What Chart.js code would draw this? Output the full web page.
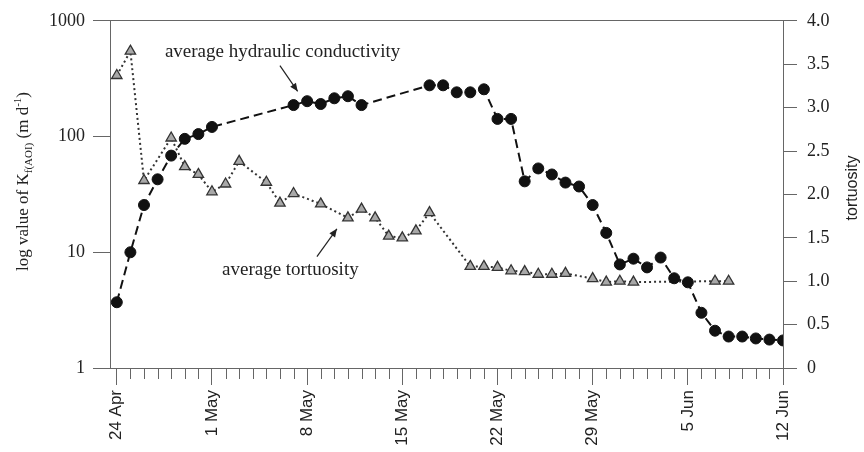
<!DOCTYPE html>
<html><head><meta charset="utf-8">
<script src="https://cdn.jsdelivr.net/npm/chart.js@4.4.1/dist/chart.umd.min.js"></script>
<style>html,body{margin:0;padding:0;background:#fff;}#wrap{width:864px;height:452px;}</style>
</head><body><div id="wrap"><canvas id="c" width="864" height="452"></canvas></div>
<script>
// ---- data (day 0 = 24 Apr) ----
const tickDays = [0, 7, 14, 21, 28, 35, 42, 49];
const tickLabels = ['24 Apr', '1 May', '8 May', '15 May', '22 May', '29 May', '5 Jun', '12 Jun'];
const condDays = [0,1,2,3,4,5,6,7,13,14,15,16,17,18,23,24,25,26,27,28,29,30,31,32,33,34,35,36,37,38,39,40,41,42,43,44,45,46,47,48,49];
const condValues = [3.7,10,25.6,42.7,68.4,95.5,105,121,187,202,191,214,223,187,277,277,241,241,256,142,142,41,53,47,40,37,25.6,14.7,7.85,8.8,7.4,9.0,5.96,5.5,3.0,2.1,1.87,1.87,1.8,1.76,1.73];
const tortDays = [0,1,2,4,5,6,7,8,9,11,12,13,15,17,18,19,20,21,22,23,26,27,28,29,30,31,32,33,35,36,37,38,44,45];
const tortValues = [3.37,3.65,2.16,2.65,2.32,2.23,2.03,2.12,2.38,2.14,1.90,2.01,1.89,1.73,1.83,1.73,1.52,1.50,1.58,1.79,1.17,1.17,1.16,1.12,1.11,1.08,1.08,1.09,1.03,0.99,1.00,0.99,1.00,1.00];
const kTicks = [1, 10, 100, 1000];
const tortTicks = [0, 0.5, 1, 1.5, 2, 2.5, 3, 3.5, 4];
const condLabel = 'average hydraulic conductivity';
const tortLabel = 'average tortuosity';

const AXIS = '#666';
const SERIF = "'Liberation Serif', 'Times New Roman', serif";
const SANS = "'Liberation Sans', Arial, sans-serif";

const extras = {
  id: 'extras',
  afterDraw(chart) {
    const ctx = chart.ctx;
    const x = chart.scales.x, y = chart.scales.y, y2 = chart.scales.y2;
    const bottom = chart.chartArea.bottom;
    ctx.save();
    // minor day ticks
    ctx.strokeStyle = AXIS; ctx.lineWidth = 1;
    for (let d = 0; d <= 49; d++) {
      if (tickDays.includes(d)) continue;
      const px = Math.round(x.getPixelForValue(d)) + 0.5;
      ctx.beginPath(); ctx.moveTo(px, bottom); ctx.lineTo(px, bottom + 11); ctx.stroke();
    }
    // annotations
    function arrow(x1, y1, x2, y2p) {
      ctx.strokeStyle = '#222'; ctx.fillStyle = '#222'; ctx.lineWidth = 1.2;
      ctx.beginPath(); ctx.moveTo(x1, y1); ctx.lineTo(x2, y2p); ctx.stroke();
      const a = Math.atan2(y2p - y1, x2 - x1), L = 8, W = 3.5;
      ctx.beginPath();
      ctx.moveTo(x2, y2p);
      ctx.lineTo(x2 - L * Math.cos(a) + W * Math.sin(a), y2p - L * Math.sin(a) - W * Math.cos(a));
      ctx.lineTo(x2 - L * Math.cos(a) - W * Math.sin(a), y2p - L * Math.sin(a) + W * Math.cos(a));
      ctx.closePath(); ctx.fill();
    }
    ctx.fillStyle = '#222';
    ctx.font = '19px ' + SERIF;
    ctx.textAlign = 'left'; ctx.textBaseline = 'alphabetic';
    ctx.fillText(condLabel, x.getPixelForValue(3.54), y.getPixelForValue(490));
    arrow(x.getPixelForValue(12.0), y.getPixelForValue(410), x.getPixelForValue(13.3), y.getPixelForValue(246));
    ctx.fillStyle = '#222';
    ctx.fillText(tortLabel, x.getPixelForValue(7.74), y2.getPixelForValue(1.068));
    arrow(x.getPixelForValue(14.72), y2.getPixelForValue(1.284), x.getPixelForValue(16.19), y2.getPixelForValue(1.603));

    // left axis title with sub/superscript
    const segs = [
      ['log value of K', 17, 0],
      ['f(AOI)', 11, 4],
      [' (m d', 17, 0],
      ['-1', 11, -7],
      [')', 17, 0]
    ];
    let total = 0;
    segs.forEach(s => { ctx.font = s[1] + 'px ' + SERIF; s.push(ctx.measureText(s[0]).width); total += s[3]; });
    ctx.save();
    ctx.translate(22, 181.5);
    ctx.rotate(-Math.PI / 2);
    ctx.fillStyle = '#222';
    let cx = -total / 2;
    segs.forEach(s => { ctx.font = s[1] + 'px ' + SERIF; ctx.fillText(s[0], cx, 6 + s[2]); cx += s[3]; });
    ctx.restore();
    // right axis title
    ctx.save();
    ctx.translate(853, 188);
    ctx.rotate(-Math.PI / 2);
    ctx.font = '16px ' + SANS; ctx.textAlign = 'center'; ctx.textBaseline = 'middle';
    ctx.fillStyle = '#222';
    ctx.fillText('tortuosity', 0, 0);
    ctx.restore();
    ctx.restore();
  }
};

new Chart(document.getElementById('c'), {
  type: 'line',
  data: {
    datasets: [
      {
        label: condLabel,
        data: condDays.map((d, i) => ({ x: d, y: condValues[i] })),
        yAxisID: 'y', xAxisID: 'x',
        borderColor: '#111', borderWidth: 2, borderDash: [9, 5],
        pointStyle: 'circle', pointRadius: 5.5, pointBackgroundColor: '#111', pointBorderColor: '#111', pointBorderWidth: 1,
        fill: false, tension: 0
      },
      {
        label: tortLabel,
        data: tortDays.map((d, i) => ({ x: d, y: tortValues[i] })),
        yAxisID: 'y2', xAxisID: 'x',
        borderColor: '#333', borderWidth: 2, borderDash: [2, 3],
        pointStyle: 'triangle', pointRadius: 6, pointBackgroundColor: '#a8a8a8', pointBorderColor: '#333', pointBorderWidth: 1.3,
        fill: false, tension: 0
      }
    ]
  },
  options: {
    responsive: false, animation: false, devicePixelRatio: 1,
    layout: { padding: 0 },
    plugins: { legend: { display: false }, tooltip: { enabled: false } },
    scales: {
      x: {
        type: 'linear', position: 'bottom', min: -0.5, max: 49,
        afterBuildTicks: s => { s.ticks = tickDays.map(v => ({ value: v })); },
        ticks: { autoSkip: false, maxRotation: 90, minRotation: 90, padding: 5, color: '#222',
          font: { family: SANS, size: 17 },
          callback: v => tickLabels[tickDays.indexOf(v)] },
        grid: { drawOnChartArea: false, tickLength: 17, tickColor: AXIS, tickWidth: 1 },
        border: { color: AXIS, width: 1 },
        afterFit: s => { s.height = 84; }
      },
      x2: {
        type: 'linear', position: 'top', min: -0.5, max: 49,
        ticks: { display: false },
        grid: { drawOnChartArea: false, drawTicks: false },
        border: { color: AXIS, width: 1 },
        afterFit: s => { s.height = 17; }
      },
      y: {
        type: 'logarithmic', position: 'left', min: 1, max: 1000,
        afterBuildTicks: s => { s.ticks = kTicks.map(v => ({ value: v })); },
        ticks: { padding: 8, color: '#222', font: { family: SERIF, size: 18 }, callback: v => String(v) },
        grid: { drawOnChartArea: false, tickLength: 17, tickColor: AXIS },
        border: { color: AXIS, width: 1 },
        afterFit: s => { s.width = 110; }
      },
      y2: {
        type: 'linear', position: 'right', min: 0, max: 4,
        afterBuildTicks: s => { s.ticks = tortTicks.map(v => ({ value: v })); },
        ticks: { padding: 10, color: '#222', font: { family: SERIF, size: 18 }, callback: v => v === 0 ? '0' : v.toFixed(1) },
        grid: { drawOnChartArea: false, tickLength: 14, tickColor: AXIS },
        border: { color: AXIS, width: 1 },
        afterFit: s => { s.width = 81; }
      }
    }
  },
  plugins: [extras]
});
</script>
</body></html>
